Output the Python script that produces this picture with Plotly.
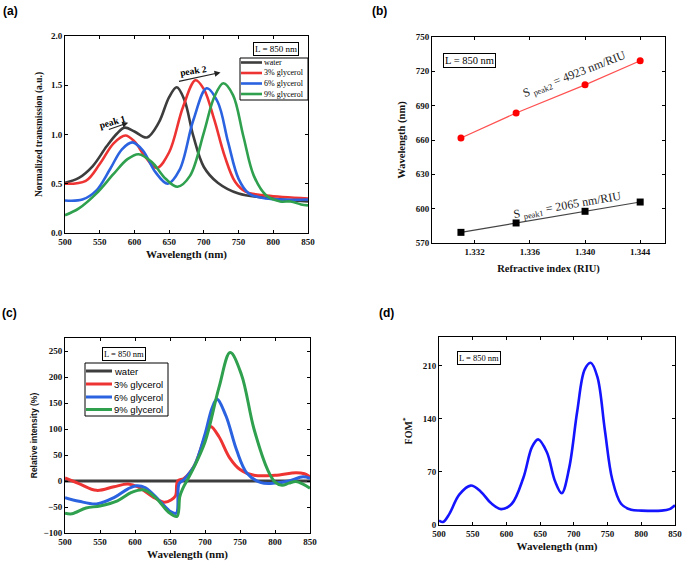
import plotly.graph_objects as go

W, H = 685, 562

# ---- (a) normalized transmission ----
series_names = ["water", "3% glycerol", "6% glycerol", "9% glycerol"]
series_colors = ["#3d3d3d", "#ee3333", "#2a62e0", "#2fa04e"]

water_x = [500, 520, 540, 560, 575, 586, 600, 618, 635, 650, 661, 672, 685, 700, 720, 750, 800, 850]
water_y = [0.51, 0.56, 0.68, 0.88, 1.01, 1.07, 1.03, 0.97, 1.12, 1.38, 1.48, 1.35, 0.98, 0.67, 0.51, 0.40, 0.35, 0.32]

red_x = [500, 530, 550, 570, 587, 600, 615, 632, 650, 670, 688, 700, 715, 730, 745, 760, 790, 850]
red_y = [0.50, 0.53, 0.70, 0.91, 0.99, 0.93, 0.78, 0.66, 0.82, 1.28, 1.55, 1.46, 1.15, 0.78, 0.52, 0.42, 0.38, 0.35]

blue_x = [500, 525, 545, 565, 582, 597, 612, 630, 648, 665, 685, 704, 720, 735, 750, 765, 790, 850]
blue_y = [0.33, 0.34, 0.43, 0.65, 0.85, 0.92, 0.84, 0.62, 0.50, 0.64, 1.15, 1.47, 1.33, 0.92, 0.55, 0.40, 0.35, 0.34]

green_x = [500, 520, 545, 570, 590, 606, 625, 645, 662, 680, 700, 715, 728, 742, 757, 772, 790, 810, 825, 840, 850]
green_y = [0.18, 0.25, 0.40, 0.60, 0.75, 0.80, 0.72, 0.55, 0.47, 0.58, 1.02, 1.38, 1.52, 1.40, 0.98, 0.58, 0.38, 0.32, 0.32, 0.29, 0.28]

# ---- (b) sensitivity ----
ri = [1.331, 1.335, 1.340, 1.344]
peak1 = [579.3, 587.5, 597.7, 605.8]
peak2 = [661.8, 683.6, 708.2, 729.3]

# ---- (c) relative intensity ----
rel_water_x = [500, 850]
rel_water_y = [0, 0]
rel_red_x = [500, 520, 545, 570, 590, 605, 625, 642, 652, 658, 661, 670, 685, 700, 708, 720, 735, 750, 770, 800, 830, 842, 850]
rel_red_y = [6, -5, -18, -11, -6, -12, -30, -41, -36, -28, 0, 5, 30, 85, 105, 85, 45, 22, 11, 11, 16, 14, 8]
rel_blue_x = [500, 520, 545, 570, 590, 602, 615, 635, 650, 659, 663, 670, 685, 700, 710, 717, 730, 745, 760, 780, 800, 820, 840, 850]
rel_blue_y = [-32, -39, -44, -32, -15, -9, -13, -38, -58, -62, -5, 3, 30, 90, 140, 157, 125, 60, 15, -3, -4, 0, 8, 5]
rel_green_x = [500, 510, 530, 550, 575, 595, 612, 630, 648, 660, 664, 668, 680, 700, 720, 736, 752, 770, 790, 800, 810, 820, 830, 840, 850]
rel_green_y = [-62, -63, -52, -48, -38, -22, -17, -33, -60, -68, -30, -15, 15, 75, 180, 247, 205, 100, 20, -2, -8, -4, -1, -6, -14]

# ---- (d) FOM* ----
fom_x = [500, 506, 515, 530, 547, 562, 577, 592, 608, 625, 638, 647, 660, 672, 682, 693, 705, 716, 725, 735, 746, 757, 770, 785, 800, 830, 842, 850]
fom_y = [6, 4, 14, 40, 52, 44, 29, 21, 28, 62, 103, 113, 96, 58, 42, 75, 150, 205, 214, 195, 125, 60, 28, 20, 19, 19, 21, 26]


def px(x):
    return x / W


def py(y):
    return 1 - y / H


SERIF = "Liberation Serif"
SANS = "Liberation Sans"

fig = go.Figure()

for name, col, xs, ys in zip(series_names, series_colors,
                             [water_x, red_x, blue_x, green_x],
                             [water_y, red_y, blue_y, green_y]):
    fig.add_trace(go.Scatter(x=xs, y=ys, mode="lines", name=name,
                             line=dict(color=col, width=2.6, shape="spline"),
                             xaxis="x", yaxis="y"))

fig.add_trace(go.Scatter(x=ri, y=peak2, mode="lines+markers",
                         line=dict(color="#ff5050", width=1.2),
                         marker=dict(color="#ff0000", size=7, symbol="circle"),
                         xaxis="x2", yaxis="y2"))
fig.add_trace(go.Scatter(x=ri, y=peak1, mode="lines+markers",
                         line=dict(color="#444444", width=1.2),
                         marker=dict(color="#000000", size=7, symbol="square"),
                         xaxis="x2", yaxis="y2"))

for name, col, xs, ys in zip(series_names, series_colors,
                             [rel_water_x, rel_red_x, rel_blue_x, rel_green_x],
                             [rel_water_y, rel_red_y, rel_blue_y, rel_green_y]):
    fig.add_trace(go.Scatter(x=xs, y=ys, mode="lines", name=name,
                             line=dict(color=col, width=3, shape="spline"),
                             xaxis="x3", yaxis="y3"))

fig.add_trace(go.Scatter(x=fom_x, y=fom_y, mode="lines",
                         line=dict(color="#1414ff", width=2.6, shape="spline"),
                         xaxis="x4", yaxis="y4"))


def axis(domain, anchor, rng, dtick=None, tickvals=None, fmt=None, title="",
         tfont=SERIF, tsize=10, standoff=4):
    d = dict(domain=domain, anchor=anchor, range=rng, showline=True,
             linecolor="black", linewidth=1, mirror="ticks", ticks="inside",
             ticklen=3, tickcolor="black", showgrid=False, zeroline=False,
             automargin=False,
             tickfont=dict(family=SERIF, size=9, color="#111", weight="bold"),
             title=dict(text=title, standoff=standoff,
                        font=dict(family=tfont, size=tsize, color="#111",
                                  weight="bold")))
    if dtick is not None:
        d["dtick"] = dtick
        d["tick0"] = rng[0]
    if tickvals is not None:
        d["tickvals"] = tickvals
        d["tickmode"] = "array"
    if fmt:
        d["tickformat"] = fmt
    return d


fig.update_layout(
    width=W, height=H, margin=dict(l=0, r=0, t=0, b=0),
    paper_bgcolor="white", plot_bgcolor="white", showlegend=False,
    xaxis=axis([px(65), px(308)], "y", [500, 850], dtick=50,
               title="Wavelength (nm)", tsize=11),
    yaxis=axis([py(233), py(36)], "x", [0, 2.0], dtick=0.5, fmt=".1f",
               title="Normalized transmission (a.u.)", tsize=9.5, standoff=6),
    xaxis2=axis([px(432), px(665)], "y2", [1.3289, 1.3458],
                tickvals=[1.332, 1.336, 1.340, 1.344], fmt=".3f",
                title="Refractive index (RIU)", tsize=10.5, standoff=8),
    yaxis2=axis([py(243), py(37)], "x2", [570, 750], dtick=30,
                title="Wavelength (nm)", tsize=10.5, standoff=8),
    xaxis3=axis([px(65), px(310)], "y3", [500, 850], dtick=50,
                title="Wavelength (nm)", tsize=11),
    yaxis3=axis([py(533), py(338)], "x3", [-100, 275], dtick=50,
                title="Relative intensity (%)", tfont=SANS, tsize=8.5, standoff=4),
    xaxis4=axis([px(439), px(675)], "y4", [500, 850], dtick=50,
                title="Wavelength (nm)", tsize=11),
    yaxis4=axis([py(525), py(337)], "x4", [0, 248],
                tickvals=[0, 70, 140, 210],
                title="FOM<sup>*</sup>", tsize=10, standoff=8),
)

ann = []
shapes = []

# panel labels
for lab, x, y in [("(a)", 1, 2), ("(b)", 370, 2), ("(c)", 0, 304), ("(d)", 377, 304)]:
    ann.append(dict(text=lab, x=px(x), y=py(y), xref="paper", yref="paper",
                    xanchor="left", yanchor="top", showarrow=False,
                    font=dict(family=SANS, size=12, color="black", weight="bold")))

# "L = 850 nm" boxes
for x, y, size in [(253, 42, 9), (443, 53, 10.5), (102, 347, 8.5), (457, 351, 8.5)]:
    ann.append(dict(text="L = 850 nm", x=px(x), y=py(y), xref="paper", yref="paper",
                    xanchor="left", yanchor="top", showarrow=False,
                    bordercolor="black", borderwidth=1, borderpad=1, bgcolor="white",
                    font=dict(family=SERIF, size=size, color="black")))

# hand-drawn legends: (a) small serif, (c) sans
legend_specs = [
    dict(box=(240, 58, 308, 100), rows=[62.5, 73, 83.5, 94], line=(241, 262),
         tx=262, font=dict(family=SERIF, size=8, color="black"), lw=2.6),
    dict(box=(85, 363, 168, 416), rows=[371, 384, 397, 409.5], line=(86, 112),
         tx=112, font=dict(family=SANS, size=9.5, color="black"), lw=3),
]
for spec in legend_specs:
    x0, y0, x1, y1 = spec["box"]
    shapes.append(dict(type="rect", xref="paper", yref="paper",
                       x0=px(x0), x1=px(x1), y0=py(y1), y1=py(y0),
                       line=dict(color="black", width=1), fillcolor="white",
                       layer="above"))
    for name, col, ry in zip(series_names, series_colors, spec["rows"]):
        shapes.append(dict(type="line", xref="paper", yref="paper",
                           x0=px(spec["line"][0]), x1=px(spec["line"][1]),
                           y0=py(ry), y1=py(ry),
                           line=dict(color=col, width=spec["lw"]), layer="above"))
        ann.append(dict(text=name, x=px(spec["tx"]), y=py(ry), xref="paper",
                        yref="paper", xanchor="left", yanchor="middle",
                        showarrow=False, font=spec["font"]))

# peak arrows in (a)
for (tx, ty), (hx, hy) in [((561, 1.046), (591, 1.12)), ((662, 1.536), (724, 1.63))]:
    ann.append(dict(x=hx, y=hy, ax=tx, ay=ty, xref="x", yref="y", axref="x",
                    ayref="y", text="", showarrow=True, arrowhead=2,
                    arrowsize=1, arrowwidth=1.2, arrowcolor="#222"))
for text, x, y, ang in [("peak 1", 569, 1.13, -16), ("peak 2", 685, 1.645, -9)]:
    ann.append(dict(text=text, x=x, y=y, xref="x", yref="y", showarrow=False,
                    textangle=ang, font=dict(family=SERIF, size=9.5, color="black",
                                             weight="bold")))

# sensitivity labels in (b)
for text, x, y, ang in [
    ("S <sub>peak2</sub> = 4923 nm/RIU", 1.3392, 717, -21),
    ("S <sub>peak1</sub> = 2065 nm/RIU", 1.3387, 602, -10),
]:
    ann.append(dict(text=text, x=x, y=y, xref="x2", yref="y2", showarrow=False,
                    textangle=ang, font=dict(family=SERIF, size=12, color="#222")))

fig.update_layout(annotations=ann, shapes=shapes)
# the page body has a default 8px margin; drop it so the figure fills the window
fig.write_html("out.html", config={"displayModeBar": False},
               post_script="document.body.style.margin='0';")
